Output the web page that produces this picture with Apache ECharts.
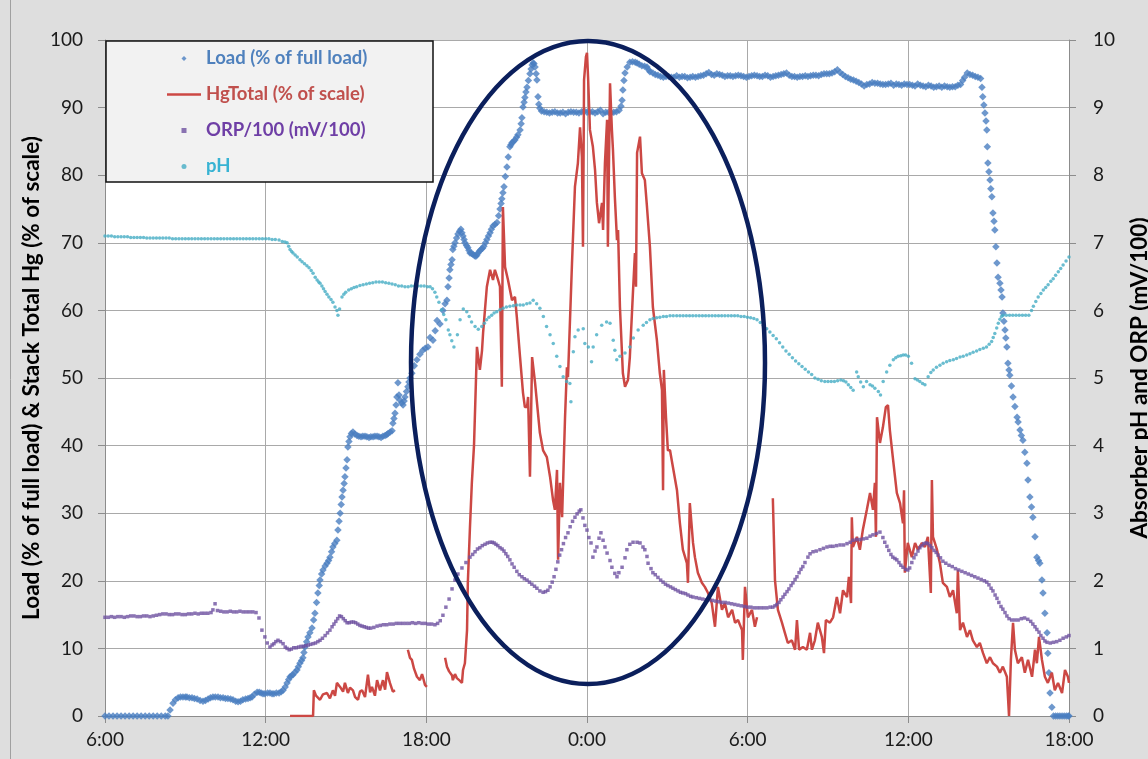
<!DOCTYPE html>
<html><head><meta charset="utf-8">
<script src="https://cdn.jsdelivr.net/npm/echarts@6/dist/echarts.min.js"></script>
<style>html,body{margin:0;padding:0;background:#dedede}#c{width:1148px;height:759px}</style>
</head><body><div id="c"></div>
<script>
// x values are hours after 6:00 on day 1 (0 .. 36)
const xTickLabels = ['6:00','12:00','18:00','0:00','6:00','12:00','18:00'];
const seriesNames = ['Load (% of full load)','HgTotal (% of scale)','ORP/100 (mV/100)','pH'];
const leftTitle = 'Load (% of full load) & Stack Total Hg (% of scale)';
const rightTitle = 'Absorber pH and ORP (mV/100)';

const loadData = [
[0,0],[0.15,0],[0.3,0],[0.45,0],[0.6,0],[0.75,0],[0.9,0],[1.05,0],[1.2,0],[1.35,0],[1.5,0],[1.65,0],[1.8,0],[1.95,0],[2.1,0],[2.25,0],[2.35,0],
[2.43,0.9],[2.54,1.9],[2.63,2.4],[2.73,2.7],[2.82,2.8],[2.91,2.8],[3.0,2.8],[3.06,2.8],[3.15,2.7],[3.25,2.7],[3.34,2.6],[3.44,2.5],[3.55,2.3],[3.66,2.2],[3.75,2.3],[3.85,2.5],[3.94,2.7],[4.03,2.8],[4.12,2.8],[4.22,2.8],[4.31,2.7],[4.41,2.7],[4.5,2.6],[4.59,2.6],[4.69,2.5],[4.78,2.4],[4.88,2.2],[4.97,2.1],[5.06,2.2],[5.15,2.4],[5.25,2.5],[5.34,2.6],[5.42,2.7],[5.49,2.8],[5.58,3.2],[5.68,3.5],[5.76,3.5],[5.83,3.4],[5.9,3.3],[5.97,3.3],[6.07,3.4],[6.16,3.4],[6.24,3.3],[6.31,3.3],[6.4,3.4],[6.5,3.4],[6.58,3.6],[6.65,3.8],[6.73,4.3],[6.8,4.9],[6.86,5.4],[6.91,5.8],[6.97,6.0],[7.02,6.1],[7.1,6.5],[7.17,6.8],[7.22,7.3],[7.28,7.8],[7.34,8.2],[7.39,8.6],[7.43,9.4],[7.47,10.2],[7.53,11.0],[7.58,11.7],[7.65,12.3],[7.73,13.0],[7.79,14.2],[7.84,15.2],[7.9,16.8],[7.95,18.2],[8.0,19.3],[8.03,20.1],[8.09,21.0],[8.14,21.6],[8.22,22.2],[8.29,22.6],[8.35,23.0],[8.4,23.5],[8.46,24.3],[8.51,25.0],[8.58,25.5],[8.66,26.0],[8.7,27.5],[8.74,28.8],[8.78,30.0],[8.82,31.3],[8.85,32.4],[8.89,33.4],[8.93,34.4],[8.96,35.4],[9.0,36.7],[9.04,37.9],[9.07,39.8],[9.11,40.6],[9.15,41.3],[9.2,41.8],[9.26,42.0],[9.33,41.7],[9.41,41.5],[9.48,41.4],[9.56,41.3],[9.63,41.4],[9.71,41.4],[9.78,41.3],[9.86,41.2],[9.93,41.3],[10.01,41.3],[10.08,41.4],[10.16,41.4],[10.23,41.3],[10.31,41.2],[10.38,41.4],[10.46,41.5],[10.52,41.6],[10.57,41.8],[10.65,42.0],[10.72,42.2],[10.75,43.3],[10.79,44.0],[10.83,44.8],[10.87,46.0],[10.9,47.2],[10.94,49.3],[10.98,47.5],[11.02,46.7],[11.08,46.3],[11.13,46.0],[11.17,46.6],[11.2,47.2],[11.26,48.0],[11.31,48.7],[11.35,49.4],[11.39,50.0],[11.46,50.7],[11.55,51.8],[11.65,52.7],[11.76,53.5],[11.87,54.1],[11.96,54.4],[12.06,54.6],[12.14,56.0],[12.25,55.6],[12.33,57.0],[12.4,58.5],[12.51,58.0],[12.62,60.0],[12.7,61.0],[12.77,61.5],[12.81,63.5],[12.85,64.8],[12.88,66.0],[12.92,66.8],[12.96,67.5],[12.99,69.0],[13.03,69.5],[13.07,70.0],[13.13,70.7],[13.18,71.3],[13.24,71.7],[13.29,72.0],[13.33,71.5],[13.37,71.0],[13.41,70.5],[13.44,70.0],[13.5,69.6],[13.55,69.3],[13.59,68.9],[13.63,68.5],[13.69,68.4],[13.74,68.3],[13.8,68.1],[13.85,68.0],[13.89,68.2],[13.93,68.5],[13.99,68.8],[14.04,69.0],[14.1,69.2],[14.15,69.5],[14.21,70.0],[14.26,70.5],[14.32,71.0],[14.38,71.5],[14.43,72.0],[14.49,72.5],[14.56,72.7],[14.64,73.0],[14.7,74.0],[14.75,75.0],[14.79,75.8],[14.82,76.5],[14.86,77.4],[14.9,78.3],[14.95,79.8],[15.01,81.2],[15.06,82.7],[15.12,84.2],[15.16,84.5],[15.2,84.8],[15.25,85.0],[15.31,85.2],[15.37,85.6],[15.42,86.0],[15.5,86.7],[15.54,87.6],[15.57,88.5],[15.61,90.1],[15.65,90.8],[15.68,91.5],[15.72,92.3],[15.76,93.0],[15.81,94.0],[15.87,95.0],[15.91,95.7],[15.95,96.3],[15.99,96.6],[16.02,96.5],[16.06,96.0],[16.1,95.0],[16.13,94.1],[16.17,91.6],[16.2,90.5],[16.24,89.9],
[16.3,89.5],[16.4,89.4],[16.5,89.3],[16.6,89.2],[16.7,89.3],[16.8,89.4],[16.9,89.2],[17.0,89.2],[17.1,89.3],[17.2,89.1],[17.3,89.3],[17.4,89.4],[17.5,89.3],[17.6,89.3],[17.7,89.2],[17.8,89.4],[17.9,89.5],[18.0,89.3],[18.1,89.3],[18.2,89.4],[18.3,89.2],[18.4,89.4],[18.5,89.6],[18.6,89.1],[18.7,89.3],[18.8,89.3],[18.9,89.2],[19.0,89.3],[19.1,89.4],[19.2,89.6],[19.27,90.2],[19.31,91.1],[19.34,92.6],[19.38,94.0],[19.42,95.1],[19.5,96.0],[19.6,96.7],[19.7,96.8],[19.8,96.7],[19.87,96.6],[19.95,96.4],[20.05,96.2],[20.15,96.1],[20.24,96.0],[20.3,95.6],[20.35,95.3],[20.46,95.1],[20.55,94.9],
[20.65,94.8],[20.75,94.6],[20.85,94.5],[20.95,94.6],[21.05,94.6],[21.15,94.5],[21.25,94.5],[21.35,94.7],[21.45,94.5],[21.55,94.6],[21.65,94.6],[21.75,94.4],[21.85,94.5],[21.95,94.6],[22.05,94.5],[22.15,94.6],[22.25,94.7],[22.35,94.8],[22.45,95.0],[22.55,95.2],[22.65,94.9],[22.75,94.8],[22.85,95.0],[22.95,94.9],[23.05,94.8],[23.15,94.6],[23.25,94.7],[23.35,94.7],[23.45,94.6],[23.55,94.7],[23.65,94.8],[23.75,94.7],[23.85,94.6],[23.95,94.5],[24.05,94.6],[24.15,94.7],[24.25,94.8],[24.35,94.7],[24.45,94.6],[24.55,94.6],[24.65,94.8],[24.75,94.7],[24.85,94.5],[24.95,94.6],[25.05,94.7],[25.15,94.8],[25.25,94.9],[25.35,95.0],[25.45,95.1],[25.55,94.8],[25.65,94.6],[25.75,94.6],[25.85,94.5],[25.95,94.6],[26.05,94.6],[26.15,94.7],[26.25,94.6],[26.35,94.7],[26.45,94.8],[26.55,94.8],[26.65,94.7],[26.75,94.9],[26.85,95.0],[26.95,95.0],[27.05,95.0],[27.15,95.1],[27.25,95.3],[27.35,95.6],[27.45,95.2],[27.55,94.9],[27.65,94.6],[27.75,94.4],[27.85,94.2],[27.95,94.1],[28.05,93.9],[28.15,93.7],[28.25,93.5],[28.35,93.2],[28.45,93.4],[28.55,93.5],[28.65,93.7],[28.75,93.6],[28.85,93.6],[28.95,93.5],[29.05,93.4],[29.15,93.4],[29.25,93.5],[29.35,93.6],[29.45,93.3],[29.55,93.5],[29.65,93.4],[29.75,93.3],[29.85,93.5],[29.95,93.4],[30.05,93.4],[30.15,93.3],[30.25,93.2],[30.35,93.5],[30.45,93.3],[30.55,93.2],[30.65,93.1],[30.75,93.3],[30.85,93.2],[30.95,93.0],[31.05,93.1],[31.15,93.2],[31.25,93.0],[31.35,93.2],[31.45,93.1],[31.55,93.0],[31.65,93.1],[31.75,93.1],[31.85,93.3],[31.95,93.4],[32.03,94.0],[32.1,94.5],[32.2,95.1],[32.3,94.9],[32.4,94.8],[32.5,94.6],[32.6,94.5],[32.7,94.3],
[32.75,93.0],[32.78,91.6],[32.82,90.4],[32.86,89.2],[32.9,88.0],[32.93,86.7],[32.95,84.2],[32.97,81.8],[33.01,80.5],[33.05,79.3],[33.08,78.0],[33.12,76.8],[33.16,74.4],[33.2,73.2],[33.23,71.9],[33.27,69.4],[33.31,67.0],[33.35,64.9],[33.42,64.0],[33.46,63.0],[33.5,62.0],[33.53,59.6],[33.57,58.4],[33.61,57.1],[33.64,55.9],[33.68,54.6],[33.72,52.2],[33.76,51.2],[33.79,50.4],[33.85,48.8],[33.91,47.2],[33.98,45.8],[34.06,44.2],[34.1,43.5],[34.17,42.3],[34.22,41.5],[34.28,40.8],[34.35,39.0],[34.43,37.4],[34.47,34.9],[34.54,32.4],[34.6,30.9],[34.65,29.4],[34.73,26.5],[34.8,23.5],[34.86,23.0],[34.91,22.6],[34.99,20.1],[35.03,18.2],[35.1,15.2],[35.18,12.3],[35.21,9.3],[35.25,6.4],[35.29,3.4],[35.36,1.3],[35.42,0],[35.5,0],[35.58,0],[35.66,0],[35.74,0],[35.82,0],[35.9,0],[35.97,0],[36,0]
];

const hgData = [
[6.91,0],[7.77,0],[7.8,3.8],[7.88,3.0],[8.03,2.4],[8.14,3.2],[8.29,3.4],[8.4,2.6],[8.51,3.8],[8.59,3.0],[8.66,4.9],[8.78,4.3],[8.89,3.6],[8.96,4.9],[9.07,3.4],[9.15,4.2],[9.26,3.8],[9.34,2.8],[9.45,2.4],[9.52,3.6],[9.6,3.8],[9.71,2.8],[9.82,6.1],[9.9,3.5],[9.97,4.3],[10.08,3.0],[10.16,5.3],[10.27,3.8],[10.38,5.3],[10.46,3.9],[10.53,6.5],[10.64,4.9],[10.75,3.6],[10.83,3.8],
[10.9,'-'],
[11.31,9.8],[11.39,8.6],[11.46,8.3],[11.54,7.0],[11.58,6.8],[11.65,5.8],[11.76,5.3],[11.84,6.2],[11.87,5.8],[11.95,4.6],[12.02,4.3],
[12.2,'-'],
[12.7,8.6],[12.77,7.3],[12.85,6.6],[12.88,6.4],[12.96,6.0],[12.99,5.3],[13.07,6.2],[13.14,5.6],[13.18,5.8],[13.26,5.2],[13.33,4.9],[13.37,6.8],[13.44,7.8],[13.52,12.7],[13.55,19.7],[13.63,28.0],[13.7,34.5],[13.78,40.0],[13.85,49.2],[13.89,54.6],[14.0,51.2],[14.08,54.1],[14.12,56.7],[14.26,63.5],[14.38,66.0],[14.49,64.5],[14.56,66.0],[14.68,64.5],[14.75,63.5],[14.82,48.7],[14.86,75.3],[14.94,66.4],[15.05,64.5],[15.2,61.5],[15.31,62.0],[15.38,59.0],[15.5,53.1],[15.61,47.8],[15.68,45.7],[15.76,45.7],[15.8,47.2],[15.87,35.4],[15.95,53.1],[16.06,49.3],[16.24,41.9],[16.36,39.3],[16.5,38.3],[16.62,35.4],[16.73,32.0],[16.8,30.5],[16.88,36.4],[16.92,23.1],[16.99,34.5],[17.07,29.4],[17.18,44.2],[17.25,51.6],[17.29,50.1],[17.44,67.0],[17.55,78.3],[17.66,81.8],[17.74,87.1],[17.81,82.7],[17.85,69.4],[17.89,94.1],[17.96,97.5],[18.0,98.1],[18.04,94.5],[18.11,86.7],[18.22,84.2],[18.3,80.8],[18.37,75.9],[18.45,72.9],[18.56,75.9],[18.6,71.9],[18.67,81.8],[18.75,88.2],[18.78,69.4],[18.86,93.6],[18.93,86.7],[18.97,83.7],[19.04,76.8],[19.12,70.4],[19.16,71.9],[19.23,60.5],[19.34,50.7],[19.42,48.7],[19.53,49.7],[19.6,53.1],[19.72,63.0],[19.79,68.5],[19.83,63.5],[19.87,83.3],[19.98,85.7],[20.05,80.3],[20.16,79.3],[20.24,75.3],[20.35,69.4],[20.46,60.5],[20.61,55.6],[20.72,50.7],[20.8,48.2],[20.84,33.4],[20.87,51.2],[20.95,44.2],[21.02,39.3],[21.1,39.3],[21.21,36.8],[21.36,33.4],[21.47,28.5],[21.58,24.6],[21.73,22.6],[21.77,19.7],[21.84,31.5],[21.96,25.6],[22.03,23.5],[22.14,21.2],[22.29,19.7],[22.4,19.1],[22.52,18.2],[22.66,16.7],[22.78,13.2],[22.89,19.1],[23.04,15.7],[23.15,16.7],[23.27,14.6],[23.42,15.7],[23.53,13.8],[23.64,14.2],[23.79,12.7],[23.82,8.3],[23.9,19.1],[24.01,14.6],[24.16,15.7],[24.27,13.2],[24.35,14.6],
[24.6,'-'],
[24.94,32.2],[25.02,20.1],[25.13,15.7],[25.28,13.8],[25.39,12.3],[25.5,10.8],[25.65,11.2],[25.77,9.8],[25.84,14.2],[25.92,9.8],[26.06,10.2],[26.21,9.8],[26.33,12.3],[26.4,9.8],[26.51,11.2],[26.62,13.8],[26.77,11.7],[26.85,9.3],[26.92,14.2],[27.07,13.8],[27.19,14.6],[27.33,17.6],[27.45,15.2],[27.56,18.6],[27.71,17.6],[27.78,20.6],[27.86,16.7],[27.89,29.4],[27.93,25.0],[28.08,26.5],[28.19,24.6],[28.3,27.5],[28.45,30.5],[28.57,33.0],[28.68,30.5],[28.75,34.5],[28.79,26.5],[28.83,44.2],[28.94,40.4],[29.05,42.7],[29.16,45.7],[29.24,46.0],[29.31,42.3],[29.42,38.3],[29.57,33.0],[29.69,31.5],[29.8,28.5],[29.84,33.4],[29.87,21.2],[29.98,25.6],[30.13,23.5],[30.25,25.6],[30.36,24.6],[30.51,25.6],[30.62,25.0],[30.73,26.5],[30.84,18.2],[30.88,34.9],[30.92,26.5],[31.07,24.6],[31.18,22.6],[31.29,19.7],[31.44,19.1],[31.55,17.6],[31.67,18.6],[31.81,15.2],[31.85,21.6],[31.93,12.7],[32.04,13.8],[32.19,11.7],[32.3,12.7],[32.41,11.2],[32.56,10.2],[32.67,10.8],[32.79,9.3],[32.93,7.8],[33.05,8.7],[33.16,7.8],[33.31,7.3],[33.42,6.4],[33.53,7.3],[33.68,5.8],[33.76,0],[33.83,8.3],[33.91,13.8],[33.98,9.8],[34.09,7.8],[34.24,8.7],[34.35,6.4],[34.47,8.3],[34.62,5.8],[34.73,9.8],[34.8,7.8],[34.88,11.7],[34.99,8.3],[35.1,5.8],[35.21,4.9],[35.36,6.4],[35.47,3.8],[35.59,4.9],[35.74,3.4],[35.85,6.8],[35.96,5.8],[36,4.9]
];

const orpData = [
[0,1.46],[0.12,1.46],[0.24,1.47],[0.36,1.46],[0.48,1.47],[0.6,1.47],[0.72,1.46],[0.84,1.47],[0.96,1.48],[1.08,1.48],[1.2,1.47],[1.32,1.47],[1.44,1.48],[1.56,1.48],[1.68,1.47],[1.8,1.48],[1.92,1.49],[2.04,1.5],[2.16,1.51],[2.28,1.51],[2.4,1.5],[2.52,1.5],[2.64,1.51],[2.76,1.51],[2.88,1.5],[3.0,1.5],[3.12,1.51],[3.24,1.51],[3.36,1.52],[3.48,1.51],[3.6,1.52],[3.72,1.52],[3.84,1.52],[3.96,1.53],[4.03,1.57],[4.11,1.66],[4.2,1.56],[4.32,1.55],[4.44,1.54],[4.56,1.54],[4.68,1.55],[4.8,1.54],[4.92,1.54],[5.04,1.55],[5.16,1.54],[5.28,1.54],[5.4,1.54],[5.52,1.54],[5.64,1.53],[5.75,1.45],[5.86,1.27],[5.97,1.17],[6.06,1.08],[6.16,1.02],[6.24,1.05],[6.31,1.07],[6.38,1.1],[6.46,1.12],[6.55,1.1],[6.65,1.07],[6.73,1.02],[6.8,1.0],[6.88,0.98],[6.96,0.99],[7.05,1.01],[7.14,1.01],[7.23,1.02],[7.32,1.03],[7.41,1.03],[7.5,1.04],[7.59,1.05],[7.68,1.06],[7.77,1.07],[7.86,1.08],[7.95,1.1],[8.03,1.12],[8.12,1.15],[8.22,1.19],[8.31,1.23],[8.4,1.27],[8.48,1.32],[8.55,1.36],[8.62,1.4],[8.69,1.44],[8.76,1.48],[8.83,1.47],[8.9,1.44],[8.97,1.41],[9.04,1.38],[9.12,1.38],[9.2,1.39],[9.28,1.39],[9.36,1.38],[9.44,1.36],[9.52,1.34],[9.6,1.33],[9.68,1.32],[9.76,1.31],[9.84,1.3],[9.92,1.3],[10.04,1.31],[10.16,1.33],[10.28,1.34],[10.4,1.35],[10.52,1.35],[10.64,1.36],[10.76,1.36],[10.88,1.37],[11.0,1.37],[11.12,1.37],[11.24,1.37],[11.36,1.37],[11.48,1.38],[11.6,1.37],[11.72,1.38],[11.84,1.37],[11.96,1.37],[12.08,1.36],[12.2,1.36],[12.32,1.35],[12.42,1.37],[12.52,1.41],[12.62,1.49],[12.73,1.61],[12.85,1.73],[12.96,1.88],[13.07,2.01],[13.18,2.1],[13.33,2.19],[13.48,2.27],[13.63,2.35],[13.73,2.39],[13.82,2.43],[13.91,2.47],[14.0,2.49],[14.09,2.52],[14.19,2.54],[14.28,2.56],[14.38,2.57],[14.46,2.57],[14.53,2.56],[14.6,2.54],[14.67,2.52],[14.75,2.49],[14.83,2.47],[14.9,2.44],[14.97,2.4],[15.04,2.36],[15.12,2.31],[15.2,2.25],[15.28,2.2],[15.38,2.14],[15.47,2.09],[15.57,2.06],[15.66,2.03],[15.76,2.01],[15.85,1.98],[15.94,1.95],[16.04,1.92],[16.13,1.89],[16.24,1.85],[16.36,1.83],[16.45,1.84],[16.54,1.86],[16.62,1.91],[16.7,1.98],[16.77,2.06],[16.84,2.17],[16.91,2.28],[16.98,2.38],[17.05,2.46],[17.12,2.55],[17.2,2.64],[17.29,2.71],[17.37,2.8],[17.46,2.88],[17.55,2.94],[17.63,2.99],[17.71,3.03],[17.77,3.05],[17.85,2.93],[17.92,2.82],[18.0,2.75],[18.07,2.64],[18.15,2.56],[18.22,2.35],[18.3,2.44],[18.37,2.5],[18.45,2.63],[18.52,2.71],[18.6,2.6],[18.67,2.5],[18.75,2.41],[18.86,2.3],[18.93,2.2],[19.04,2.11],[19.12,2.06],[19.19,2.12],[19.31,2.2],[19.42,2.34],[19.49,2.46],[19.6,2.54],[19.72,2.57],[19.87,2.57],[19.98,2.56],[20.09,2.5],[20.16,2.46],[20.24,2.36],[20.28,2.26],[20.39,2.18],[20.46,2.12],[20.55,2.09],[20.65,2.05],[20.75,2.01],[20.84,1.98],[20.93,1.95],[21.02,1.93],[21.12,1.91],[21.21,1.89],[21.3,1.87],[21.4,1.85],[21.49,1.83],[21.58,1.82],[21.68,1.81],[21.77,1.79],[21.87,1.77],[21.96,1.76],[22.08,1.75],[22.2,1.74],[22.32,1.73],[22.44,1.72],[22.56,1.72],[22.68,1.71],[22.8,1.7],[22.92,1.69],[23.04,1.68],[23.16,1.68],[23.28,1.67],[23.4,1.66],[23.52,1.65],[23.64,1.64],[23.76,1.63],[23.88,1.62],[24.0,1.61],[24.12,1.61],[24.24,1.6],[24.36,1.6],[24.48,1.6],[24.6,1.6],[24.72,1.6],[24.84,1.61],[24.94,1.61],[25.02,1.63],[25.09,1.65],[25.17,1.68],[25.24,1.72],[25.32,1.76],[25.39,1.8],[25.47,1.84],[25.54,1.88],[25.62,1.93],[25.69,1.97],[25.77,2.02],[25.84,2.06],[25.92,2.12],[25.99,2.17],[26.06,2.21],[26.14,2.27],[26.25,2.35],[26.33,2.4],[26.44,2.43],[26.56,2.44],[26.7,2.46],[26.83,2.48],[26.96,2.5],[27.08,2.51],[27.19,2.51],[27.32,2.52],[27.45,2.53],[27.58,2.53],[27.71,2.55],[27.83,2.57],[27.93,2.6],[28.06,2.61],[28.19,2.61],[28.32,2.62],[28.45,2.63],[28.57,2.66],[28.68,2.68],[28.81,2.7],[28.94,2.72],[29.05,2.64],[29.12,2.57],[29.2,2.51],[29.27,2.45],[29.35,2.39],[29.42,2.35],[29.5,2.33],[29.57,2.31],[29.65,2.27],[29.72,2.23],[29.8,2.2],[29.9,2.17],[29.98,2.16],[30.05,2.19],[30.13,2.27],[30.21,2.34],[30.28,2.39],[30.36,2.44],[30.43,2.49],[30.51,2.52],[30.58,2.55],[30.66,2.56],[30.73,2.55],[30.81,2.52],[30.88,2.49],[30.96,2.45],[31.04,2.42],[31.11,2.38],[31.2,2.34],[31.29,2.29],[31.4,2.26],[31.52,2.23],[31.64,2.21],[31.76,2.18],[31.88,2.16],[32.0,2.14],[32.12,2.12],[32.24,2.1],[32.36,2.08],[32.48,2.06],[32.6,2.04],[32.72,2.02],[32.84,2.0],[32.93,1.98],[33.01,1.94],[33.09,1.89],[33.16,1.85],[33.24,1.79],[33.31,1.74],[33.38,1.68],[33.46,1.62],[33.53,1.58],[33.61,1.53],[33.68,1.48],[33.76,1.44],[33.86,1.42],[33.98,1.42],[34.1,1.42],[34.22,1.44],[34.34,1.45],[34.46,1.43],[34.57,1.4],[34.65,1.36],[34.73,1.32],[34.8,1.28],[34.88,1.24],[34.95,1.19],[35.03,1.15],[35.1,1.11],[35.18,1.09],[35.3,1.08],[35.42,1.09],[35.54,1.1],[35.66,1.12],[35.78,1.15],[35.9,1.17],[36,1.19]
];

const phData = [
[0,7.1],[0.12,7.1],[0.24,7.1],[0.36,7.09],[0.48,7.09],[0.6,7.09],[0.72,7.09],[0.84,7.09],[0.96,7.08],[1.08,7.08],[1.2,7.08],[1.32,7.08],[1.44,7.08],[1.56,7.07],[1.68,7.07],[1.8,7.07],[1.92,7.07],[2.04,7.07],[2.16,7.07],[2.28,7.07],[2.4,7.07],[2.52,7.06],[2.64,7.06],[2.76,7.06],[2.88,7.06],[3.0,7.06],[3.12,7.06],[3.24,7.06],[3.36,7.06],[3.48,7.06],[3.6,7.06],[3.72,7.06],[3.84,7.06],[3.96,7.06],[4.08,7.06],[4.2,7.06],[4.32,7.06],[4.44,7.06],[4.56,7.06],[4.68,7.06],[4.8,7.06],[4.92,7.06],[5.04,7.06],[5.16,7.06],[5.28,7.06],[5.4,7.06],[5.52,7.06],[5.64,7.06],[5.76,7.06],[5.88,7.06],[6.0,7.06],[6.12,7.06],[6.24,7.05],[6.36,7.05],[6.5,7.04],[6.62,7.02],[6.72,7.01],[6.8,7.0],[6.86,6.95],[6.91,6.9],[6.97,6.87],[7.02,6.85],[7.1,6.82],[7.18,6.79],[7.28,6.75],[7.36,6.72],[7.45,6.69],[7.54,6.66],[7.62,6.63],[7.7,6.59],[7.77,6.55],[7.85,6.49],[7.92,6.45],[7.98,6.42],[8.03,6.4],[8.1,6.36],[8.16,6.32],[8.22,6.28],[8.29,6.24],[8.36,6.2],[8.44,6.16],[8.51,6.12],[8.59,6.05],[8.66,6.0],[8.7,5.93],[8.76,6.02],[8.85,6.2],[8.92,6.24],[8.99,6.27],[9.1,6.3],[9.2,6.32],[9.3,6.34],[9.4,6.35],[9.52,6.37],[9.64,6.38],[9.76,6.39],[9.88,6.4],[10.0,6.41],[10.12,6.42],[10.24,6.42],[10.36,6.42],[10.48,6.41],[10.6,6.4],[10.72,6.39],[10.84,6.38],[10.96,6.36],[11.08,6.36],[11.2,6.35],[11.32,6.35],[11.44,6.36],[11.56,6.36],[11.68,6.36],[11.8,6.36],[11.92,6.36],[12.04,6.35],[12.14,6.35],[12.23,6.32],[12.32,6.27],[12.39,6.2],[12.47,6.12],[12.57,6.01],[12.65,5.94],[12.73,5.86],[12.82,5.71],[12.88,5.64],[12.95,5.55],[13.03,5.46],[13.16,5.64],[13.26,5.86],[13.38,6.02],[13.51,5.98],[13.6,5.91],[13.69,5.83],[13.82,5.76],[13.94,5.72],[14.07,5.76],[14.17,5.81],[14.25,5.86],[14.34,5.9],[14.44,5.93],[14.53,5.96],[14.63,5.98],[14.75,6.01],[14.87,6.03],[14.99,6.05],[15.12,6.06],[15.25,6.07],[15.37,6.08],[15.5,6.08],[15.62,6.08],[15.75,6.1],[15.87,6.11],[15.99,6.15],[16.12,6.1],[16.24,6.03],[16.37,5.91],[16.49,5.76],[16.62,5.64],[16.74,5.51],[16.87,5.32],[16.99,5.17],[17.11,5.02],[17.24,4.95],[17.36,4.92],[17.4,4.65],[17.49,5.39],[17.55,5.61],[17.67,5.71],[17.86,5.73],[17.92,5.51],[18.05,5.46],[18.17,5.24],[18.23,5.46],[18.36,5.64],[18.55,5.78],[18.73,5.83],[18.86,5.81],[18.98,5.56],[19.04,5.41],[19.11,5.27],[19.23,5.32],[19.42,5.37],[19.6,5.46],[19.73,5.59],[19.91,5.71],[20.1,5.78],[20.22,5.82],[20.35,5.86],[20.47,5.88],[20.6,5.89],[20.72,5.9],[20.85,5.91],[20.97,5.91],[21.1,5.92],[21.22,5.92],[21.35,5.92],[21.47,5.92],[21.59,5.92],[21.71,5.92],[21.83,5.92],[21.95,5.92],[22.07,5.92],[22.19,5.92],[22.31,5.92],[22.43,5.92],[22.55,5.92],[22.67,5.92],[22.79,5.92],[22.91,5.92],[23.03,5.92],[23.15,5.92],[23.27,5.92],[23.39,5.92],[23.51,5.92],[23.63,5.92],[23.75,5.91],[23.87,5.91],[23.99,5.9],[24.11,5.89],[24.23,5.88],[24.35,5.86],[24.47,5.82],[24.59,5.78],[24.71,5.73],[24.83,5.68],[24.95,5.63],[25.07,5.58],[25.19,5.52],[25.31,5.46],[25.43,5.4],[25.55,5.35],[25.67,5.3],[25.79,5.25],[25.91,5.21],[26.03,5.17],[26.15,5.13],[26.27,5.09],[26.39,5.05],[26.51,5.0],[26.63,4.98],[26.75,4.96],[26.88,4.95],[27.0,4.95],[27.12,4.95],[27.24,4.95],[27.36,4.96],[27.48,4.97],[27.58,4.96],[27.67,4.94],[27.76,4.9],[27.85,4.86],[27.94,4.82],[28.07,5.09],[28.13,5.02],[28.22,4.94],[28.32,4.87],[28.44,4.95],[28.57,4.9],[28.66,4.88],[28.75,4.85],[28.88,4.8],[28.96,4.75],[29.06,4.95],[29.19,5.09],[29.31,5.19],[29.44,5.27],[29.53,5.3],[29.62,5.32],[29.72,5.33],[29.81,5.34],[29.9,5.34],[30.0,5.32],[30.12,5.22],[30.25,4.99],[30.34,4.97],[30.43,4.95],[30.53,4.92],[30.62,4.9],[30.74,5.02],[30.84,5.08],[30.93,5.12],[31.05,5.16],[31.18,5.19],[31.3,5.22],[31.43,5.24],[31.55,5.26],[31.68,5.27],[31.8,5.29],[31.93,5.31],[32.05,5.32],[32.18,5.34],[32.3,5.36],[32.42,5.38],[32.55,5.4],[32.67,5.42],[32.8,5.44],[32.92,5.46],[33.02,5.5],[33.11,5.54],[33.17,5.6],[33.23,5.66],[33.3,5.74],[33.36,5.81],[33.42,5.87],[33.48,5.91],[33.54,5.93],[33.66,5.93],[33.78,5.93],[33.9,5.93],[34.02,5.93],[34.14,5.93],[34.26,5.93],[34.38,5.93],[34.5,5.93],[34.6,6.0],[34.67,6.06],[34.76,6.13],[34.85,6.2],[34.95,6.25],[35.04,6.3],[35.13,6.34],[35.22,6.38],[35.32,6.43],[35.41,6.47],[35.5,6.52],[35.6,6.57],[35.69,6.62],[35.78,6.67],[35.89,6.73],[36,6.79]
];

const colors = { load:'#4a7ec0', hg:'#cc4844', orp:'#6e51a0', ph:'#45adc4' };
const textColors = { load:'#4f81bd', hg:'#c0504d', orp:'#6f3fa6', ph:'#38b3d3' };
const FONT = 'Lato, "Open Sans", sans-serif';
const icons = {
  diamond: 'path://M0,1L1,0L2,1L1,2Z',
  square: 'path://M0,0L2,0L2,2L0,2Z',
  circle: 'path://M0,1A1,1,0,1,1,2,1A1,1,0,1,1,0,1Z',
  line: 'path://M0,0L34,0L34,2.6L0,2.6Z'
};

const chart = echarts.init(document.getElementById('c'), null, {renderer:'canvas'});
const axisGray = '#8c8c8c';
const gridGray = '#a9a9a9';

chart.setOption({
  animation: false,
  backgroundColor: '#dedede',
  textStyle: { fontFamily: FONT },
  grid: { left:105, right:79, top:40, bottom:43, show:true, backgroundColor:'#ffffff', borderWidth:0, containLabel:false, outerBoundsMode:'none' },
  xAxis: {
    type:'value', min:0, max:36, interval:6,
    axisLine:{ show:true, onZero:false, lineStyle:{ color:axisGray, width:1 } },
    axisTick:{ show:true, length:7, inside:false, lineStyle:{ color:axisGray } },
    splitLine:{ show:true, lineStyle:{ color:gridGray, width:1 } },
    axisLabel:{ show:true, fontSize:19, color:'#1a1a1a', margin:14, fontFamily:FONT,
      formatter: v => xTickLabels[Math.round(v/6)] }
  },
  yAxis: [
    { type:'value', min:0, max:100, interval:10, position:'left',
      axisLine:{ show:true, lineStyle:{ color:axisGray } },
      axisTick:{ show:true, length:7, lineStyle:{ color:axisGray } },
      splitLine:{ show:true, lineStyle:{ color:gridGray, width:1 } },
      axisLabel:{ fontSize:19, color:'#1a1a1a', margin:22, fontFamily:FONT } },
    { type:'value', min:0, max:10, interval:1, position:'right',
      axisLine:{ show:true, lineStyle:{ color:axisGray } },
      axisTick:{ show:true, length:7, lineStyle:{ color:axisGray } },
      splitLine:{ show:false },
      axisLabel:{ fontSize:19, color:'#1a1a1a', margin:24, fontFamily:FONT } }
  ],
  legend: {
    show:true, orient:'vertical', left:167, top:49,
    itemWidth:34, itemHeight:5, itemGap:17,
    padding:0, backgroundColor:'transparent', borderWidth:0,
    selectedMode:false, symbolKeepAspect:true,
    textStyle:{ fontSize:18.5, fontWeight:'bold', fontFamily:FONT },
    data:[
      { name:seriesNames[0], icon:icons.diamond, textStyle:{ color:textColors.load } },
      { name:seriesNames[1], icon:icons.line, textStyle:{ color:textColors.hg } },
      { name:seriesNames[2], icon:icons.square, textStyle:{ color:textColors.orp } },
      { name:seriesNames[3], icon:icons.circle, textStyle:{ color:textColors.ph } }
    ]
  },
  graphic: [
    { type:'rect', z:3, shape:{ x:106, y:41, width:327, height:141 },
      style:{ fill:'#f2f2f2', stroke:'#111111', lineWidth:1.5 } },
    { type:'line', z:1, shape:{ x1:10.5, y1:0, x2:10.5, y2:759 }, style:{ stroke:'#a0a0a0', lineWidth:1 } },
    { type:'ellipse', z:100, shape:{ cx:588, cy:362.5, rx:177, ry:321.5 },
      style:{ fill:'none', stroke:'#0b1f5c', lineWidth:4.5 } },
    { type:'text', z:5, x:32, y:378, rotation:Math.PI/2,
      style:{ text:leftTitle, fontSize:22.5, fontWeight:'bold', fontFamily:FONT, fill:'#000', align:'center', verticalAlign:'middle' } },
    { type:'text', z:5, x:1140, y:378, rotation:Math.PI/2,
      style:{ text:rightTitle, fontSize:22.5, fontWeight:'bold', fontFamily:FONT, fill:'#000', align:'center', verticalAlign:'middle' } }
  ],
  series: [
    { name:seriesNames[0], type:'scatter', yAxisIndex:0, data:loadData, symbol:'diamond', symbolSize:7.5,
      itemStyle:{ color:colors.load }, z:2 },
    { name:seriesNames[1], type:'line', yAxisIndex:0, data:hgData, showSymbol:false, symbol:'none',
      connectNulls:false, lineStyle:{ color:colors.hg, width:2.5 }, itemStyle:{ color:colors.hg }, z:3 },
    { name:seriesNames[2], type:'scatter', yAxisIndex:1, data:orpData, symbol:'rect', symbolSize:3.5,
      itemStyle:{ color:colors.orp }, z:4 },
    { name:seriesNames[3], type:'scatter', yAxisIndex:1, data:phData, symbol:'circle', symbolSize:3.5,
      itemStyle:{ color:colors.ph }, z:5 }
  ]
});
</script>
</body></html>
